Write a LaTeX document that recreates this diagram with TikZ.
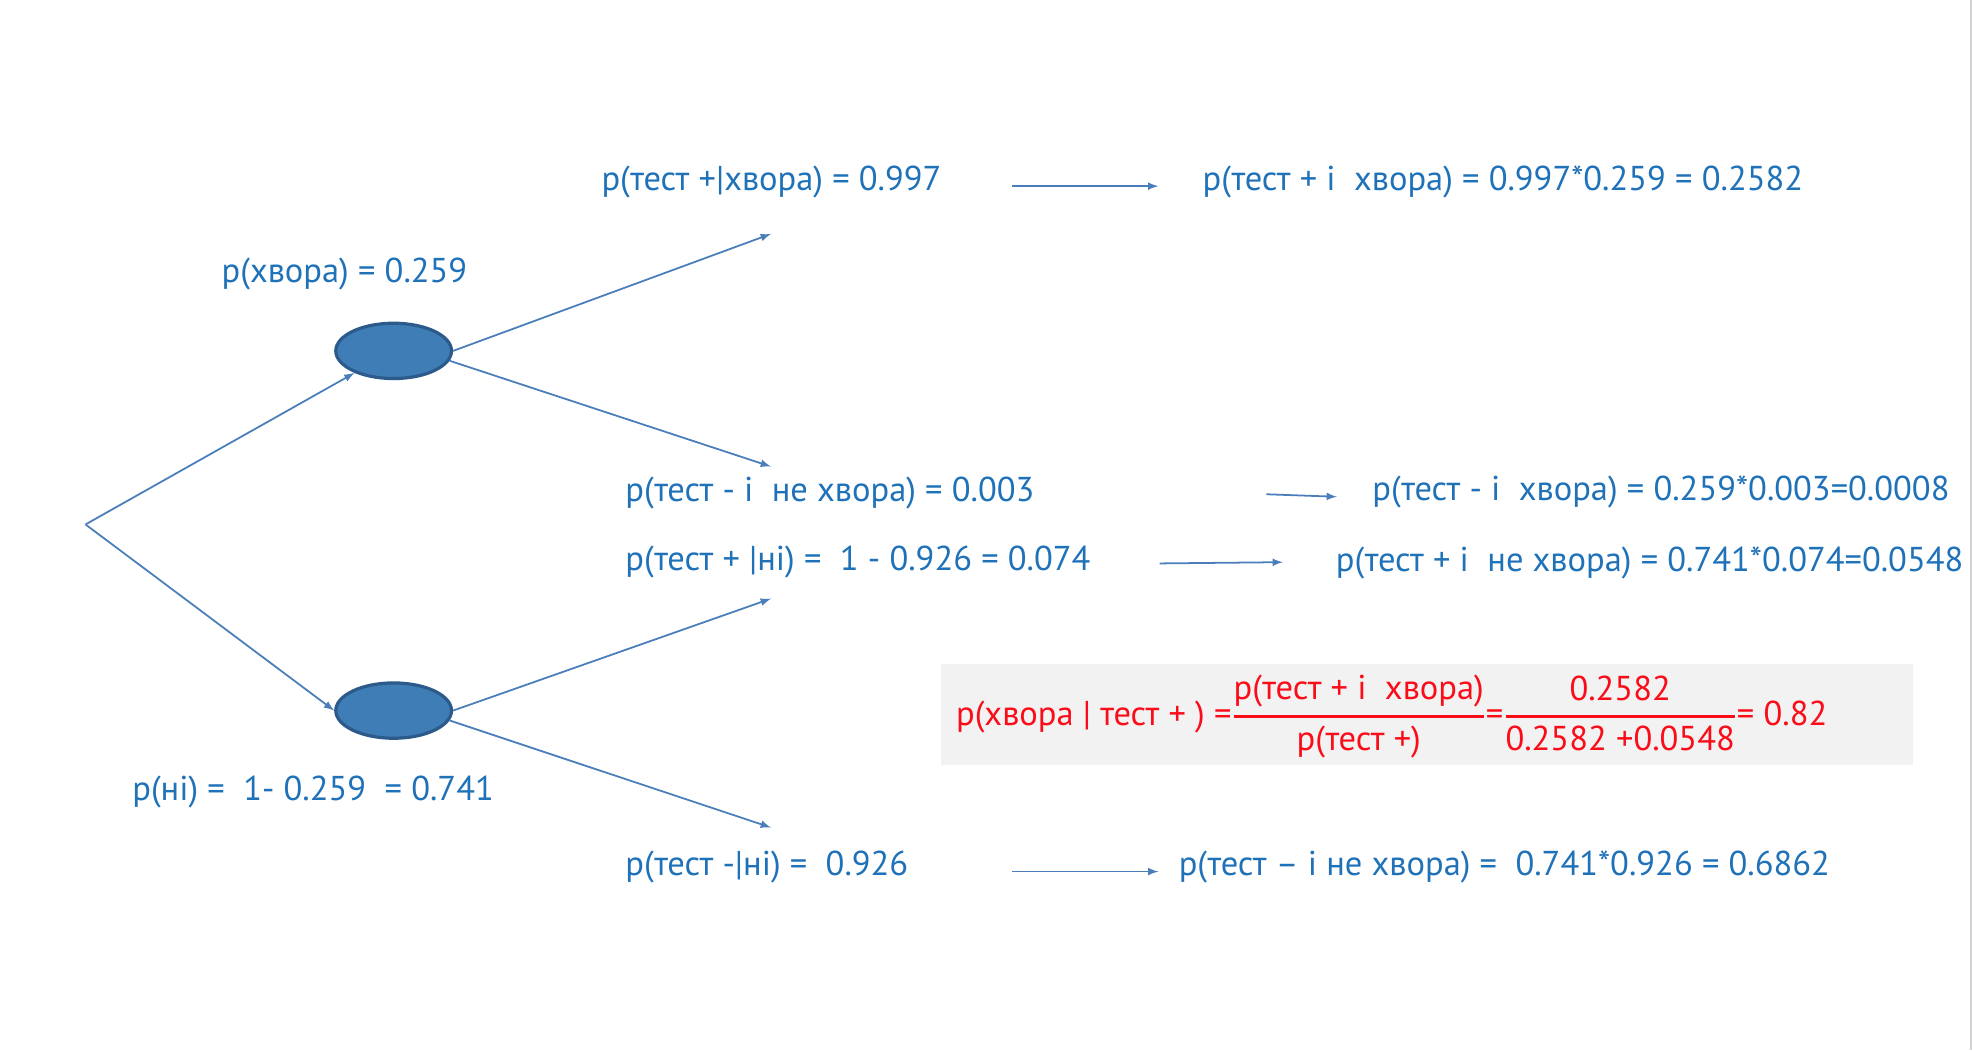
\documentclass[tikz,border=0pt]{standalone}
\usepackage{amsmath}
\usepackage{fontspec}
\setmainfont{PT Sans}
\usetikzlibrary{shapes.geometric,positioning}
\definecolor{txtblue}{RGB}{31,113,184}
\definecolor{linkblue}{RGB}{74,126,187}
\definecolor{ballfill}{RGB}{62,125,181}
\definecolor{balldraw}{RGB}{44,90,138}
\definecolor{boxgray}{RGB}{242,242,242}
\definecolor{resred}{RGB}{250,12,24}
\tikzset{
  prob/.style={anchor=west,inner sep=0pt,text=txtblue,font=\fontsize{19.5}{21}\selectfont},
  ball/.style={ellipse,draw=balldraw,fill=ballfill,line width=1.8pt,minimum width=2.3cm,minimum height=1.1cm},
  branch/.style={draw=linkblue,line width=1pt}
}

\begin{document}
\begin{tikzpicture}[x=0.025cm,y=-0.025cm,>=latex]
  \useasboundingbox (0,0) rectangle (1568,835);
  \draw[gray!35,line width=1pt] (1567,0) -- (1567,835);
  % tree
  \coordinate (root) at (68,417);
  \node[ball] (sick) at (313,279) {};
  \node[ball] (healthy) at (313,565) {};
  \coordinate (t_pp) at (613,186);
  \coordinate (t_pn) at (613,371);
  \coordinate (t_hp) at (613,476);
  \coordinate (t_hn) at (613,658);
  \path[->]
  (root) edge [branch] (sick)
         edge [branch] (healthy.west)
  (sick.east) edge [branch] (t_pp)
  (sick.-10) edge [branch] (t_pn)
  (healthy.east) edge [branch] (t_hp)
  (healthy.-10) edge [branch] (t_hn);
  \node[prob] (p_sick) at (176,218) {p(хвора) = 0.259};
  \node[prob] (p_healthy) at (105,630) {p(ні) = \ 1- 0.259 \ = 0.741};
  % conditional
  \node[prob] (c_pp) at (478,145) {p(тест +|хвора) = 0.997};
  \node[prob] (c_pn) at (497,392) {p(тест - і \ не хвора) = 0.003};
  \node[prob] (c_hp) at (497,447) {p(тест + |ні) = \ 1 - 0.926 = 0.074};
  \node[prob] (c_hn) at (497,689) {p(тест -|ні) = \ 0.926};
  % joint
  \node[prob] (j_pp) at (956,145) {p(тест + і \ хвора) = 0.997*0.259 = 0.2582};
  \node[prob] (j_pn) at (1091,391) {p(тест - і \ хвора) = 0.259*0.003=0.0008};
  \node[prob] (j_hp) at (1062,448) {p(тест + і \ не хвора) = 0.741*0.074=0.0548};
  \node[prob] (j_hn) at (937,689) {p(тест – і не хвора) = \ 0.741*0.926 = 0.6862};
  \coordinate (a1s) at (805,148); \coordinate (a1e) at (921,148);
  \coordinate (a2s) at (1007,393); \coordinate (a2e) at (1063,395);
  \coordinate (a3s) at (922,448); \coordinate (a3e) at (1020,447);
  \coordinate (a4s) at (805,693); \coordinate (a4e) at (921,693);
  \path[->]
  (a1s) edge [branch] (a1e)
  (a2s) edge [branch] (a2e)
  (a3s) edge [branch] (a3e)
  (a4s) edge [branch] (a4e);
  % bayes
  \node[fill=boxgray,minimum width=19.325cm,minimum height=2cm,inner sep=0pt] (box) at (1134.5,568) {};
  \node[prob,text=resred] (bayes) at (760,570) {p(хвора | тест + ) =$\genfrac{}{}{1.5pt}{0}{\text{p(тест + і \ хвора)}}{\text{p(тест +)}}$=$\genfrac{}{}{1.5pt}{0}{\text{0.2582}}{\text{0.2582 +0.0548}}$= 0.82};
\end{tikzpicture}
\end{document}
